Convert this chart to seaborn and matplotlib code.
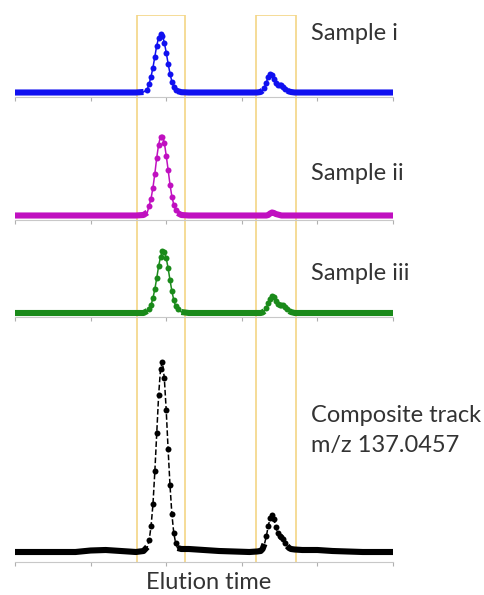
import numpy as np
import matplotlib
matplotlib.use("Agg")
import matplotlib.pyplot as plt
import seaborn as sns
from matplotlib.patches import Rectangle

# elution time (arbitrary units), denser sampling across the two peaks
elution_time = [0, 4, 8, 12, 16, 20, 24, 28, 32, 34,
                35, 35.5, 36, 36.5, 37, 37.5, 38, 38.5, 39, 39.5, 40, 40.5, 41, 41.5, 42, 42.5, 43, 44,
                46, 50, 54, 58, 62, 64,
                65, 65.5, 66, 66.5, 67, 67.5, 68, 68.5, 69, 69.5, 70, 70.5, 71, 71.5, 72, 72.5, 73, 74,
                76, 80, 84, 88, 92, 96, 100]

sample_i = [0, 0, 0, 0, 0, 0, 0, 0, 0, 0.5,
            3, 9, 16, 25, 36, 47, 55, 59, 57, 50, 40, 29, 19, 11, 6, 3, 1.4, 0.3,
            0, 0, 0, 0, 0, 0,
            0.5, 2, 5, 10, 16, 19, 18, 14, 10, 8, 8, 8, 6, 4, 2, 1, 0.5, 0,
            0, 0, 0, 0, 0, 0, 0]

sample_ii = [0, 0, 0, 0, 0, 0, 0, 0, 0, 0.5,
             3, 10, 17, 28, 42, 58, 71, 79, 79, 73, 60, 46, 31, 19, 11, 6, 2.5, 0.5,
             0, 0, 0, 0, 0, 0,
             0, 0, 0, 0, 0.5, 2, 3, 2.5, 1.5, 1, 0.5, 0, 0, 0, 0, 0, 0, 0,
             0, 0, 0, 0, 0, 0, 0]

sample_iii = [0, 0, 0, 0, 0, 0, 0, 0, 0, 0,
              2, 4, 8, 15, 24, 35, 47, 56, 62, 61, 55, 45, 33, 22, 13, 7, 4, 1,
              0, 0, 0, 0, 0, 0,
              0, 0.5, 2, 5, 10, 14, 17, 16, 12, 9, 8, 8, 8, 6, 4, 2, 1, 0,
              0, 0, 0, 0, 0, 0, 0]

composite = [0, 0, 0, 0, 0, 1.5, 2, 1, 0, 1,
             5, 12, 26, 48, 81, 119, 157, 183, 190, 174, 142, 103, 67, 38, 19, 9, 4, 3,
             3, 2, 1, 0.5, 0, 0.5,
             1, 3, 8, 16, 26, 34, 37, 33, 25, 19, 16, 15, 13, 9, 6, 4, 3, 2.5,
             2, 2, 1, 0.5, 0, 0, 0]

track_names = ["Sample i", "Sample ii", "Sample iii", "Composite track"]
track_colors = ["#1010f0", "#c010c0", "#1a8a1a", "#000000"]
time_windows = [(32.3, 45.0), (63.8, 74.3)]
time_ticks = [0, 20, 40, 60, 80, 100]

W, H = 484, 595
sns.set_theme(style="white")
plt.rcParams["font.family"] = ["Lato", "DejaVu Sans"]

fig = plt.figure(figsize=(W / 100, H / 100), dpi=100)
left, width = 15 / W, 378 / W

# highlight boxes spanning all tracks (drawn underneath)
box_ax = fig.add_axes([left, 1 - 563 / H, width, 548 / H], zorder=0)
box_ax.set_xlim(0, 100)
box_ax.set_ylim(0, 1)
box_ax.axis("off")
for t0, t1 in time_windows:
    box_ax.add_patch(Rectangle((t0, 0), t1 - t0, 1, fill=False,
                               edgecolor="#f4d585", linewidth=1.2))

# (baseline pixel, ylim low, ylim high) for each track, 1 unit = 1 px
layout = [(92.5, -4, 66), (215.5, -4, 84), (313, -4, 66), (552, -10, 196)]
series = [sample_i, sample_ii, sample_iii, composite]
t = np.array(elution_time)

for name, color, vals, (base, lo, hi) in zip(track_names, track_colors, series, layout):
    vals = np.array(vals, dtype=float)
    ax = fig.add_axes([left, 1 - (base - lo) / H, width, (hi - lo) / H], zorder=1)
    ax.patch.set_alpha(0)
    # thick baseline where the signal is flat, dots only on the peaks
    is_flat = vals < 0.045 * vals.max()
    ax.plot(t, np.where(is_flat, vals, np.nan), color=color,
            linewidth=4.4, solid_capstyle="butt")
    sns.lineplot(x=t, y=vals, ax=ax, color=color,
                 linestyle="--" if name.startswith("Composite") else "-",
                 linewidth=1.1, marker="o", markersize=4.3,
                 markeredgewidth=0, markevery=list(np.where(~is_flat)[0]),
                 sort=False)
    ax.set_xlim(0, 100)
    ax.set_ylim(lo, hi)
    ax.set_xticks(time_ticks)
    ax.set_xticklabels([])
    ax.set_yticks([])
    ax.set_xlabel("")
    ax.set_ylabel("")
    for s in ["top", "left", "right"]:
        ax.spines[s].set_visible(False)
    ax.spines["bottom"].set_color("#c8c8c8")
    ax.spines["bottom"].set_linewidth(0.8)
    ax.tick_params(axis="x", bottom=True, direction="out", length=3,
                   color="#b0b0b0", width=0.8)

txt = dict(fontsize=17, color="#333333", ha="left", va="baseline")
fig.text(311 / W, 1 - 40 / H, "Sample i", **txt)
fig.text(311 / W, 1 - 180 / H, "Sample ii", **txt)
fig.text(311 / W, 1 - 280 / H, "Sample iii", **txt)
fig.text(311 / W, 1 - 422 / H, "Composite track", **txt)
fig.text(311 / W, 1 - 452 / H, "m/z 137.0457", **txt)
fig.text(146 / W, 1 - 589 / H, "Elution time", **txt)

fig.savefig("out.png", dpi=100)
